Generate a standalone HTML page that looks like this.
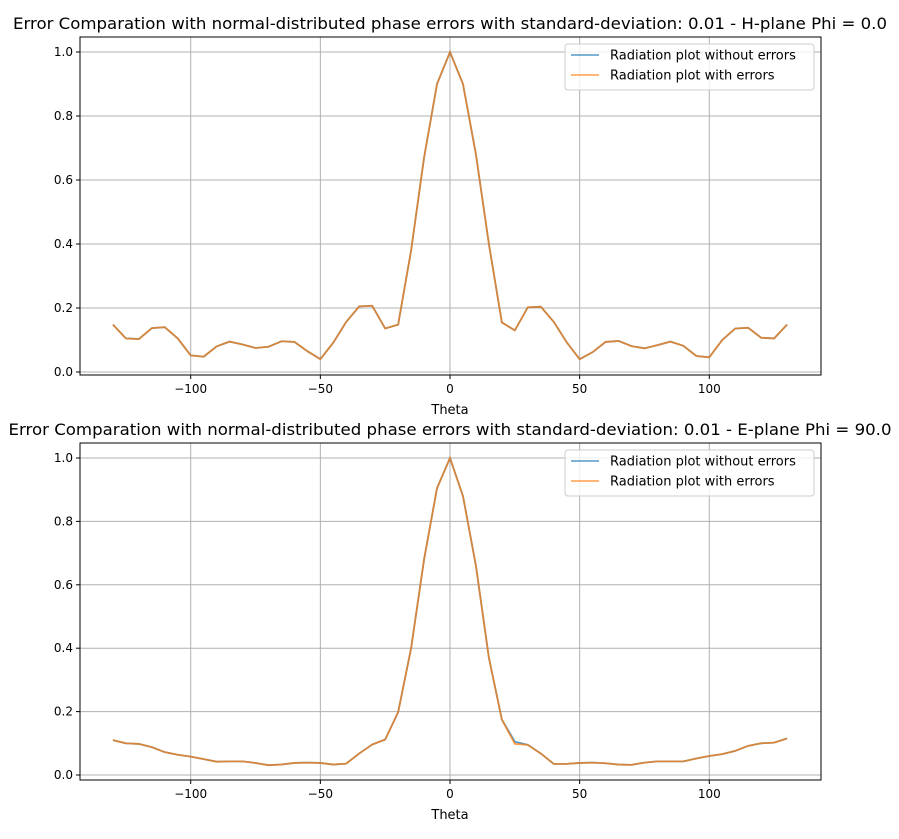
<!DOCTYPE html>
<html><head><meta charset="utf-8"><style>
body{margin:0;background:#fff;font-family:"Liberation Sans","DejaVu Sans",sans-serif}
svg text{font-family:"DejaVu Sans","Liberation Sans",sans-serif}
</style></head><body>
<svg id="c" width="899" height="834" xmlns="http://www.w3.org/2000/svg"></svg>
<script>
const thetas=[];for(let t=-130;t<=130;t+=5)thetas.push(t);
const hNoErr=[0.148,0.105,0.103,0.137,0.14,0.105,0.052,0.048,0.08,0.095,0.086,0.075,0.079,0.096,0.094,0.065,0.04,0.092,0.157,0.205,0.207,0.136,0.148,0.38,0.67,0.9,1.0,0.9,0.68,0.4,0.155,0.13,0.202,0.204,0.157,0.093,0.04,0.062,0.094,0.097,0.081,0.074,0.084,0.095,0.082,0.05,0.046,0.1,0.136,0.138,0.107,0.105,0.148];
const hErr=[0.148,0.105,0.103,0.137,0.14,0.105,0.052,0.048,0.08,0.095,0.086,0.075,0.079,0.096,0.094,0.065,0.04,0.092,0.157,0.205,0.207,0.136,0.148,0.38,0.67,0.9,1.0,0.9,0.68,0.4,0.155,0.13,0.202,0.204,0.157,0.093,0.04,0.062,0.094,0.097,0.081,0.074,0.084,0.095,0.082,0.05,0.046,0.1,0.136,0.138,0.107,0.105,0.148];
const eNoErr=[0.11,0.1,0.098,0.088,0.072,0.064,0.058,0.05,0.042,0.043,0.043,0.038,0.031,0.033,0.038,0.039,0.038,0.033,0.036,0.068,0.096,0.112,0.198,0.4,0.68,0.905,1.0,0.88,0.66,0.37,0.175,0.105,0.095,0.068,0.035,0.035,0.038,0.039,0.037,0.033,0.032,0.039,0.043,0.043,0.043,0.052,0.06,0.066,0.076,0.092,0.1,0.102,0.115];
const eErr=[0.11,0.1,0.098,0.088,0.072,0.064,0.058,0.05,0.042,0.043,0.043,0.038,0.031,0.033,0.038,0.039,0.038,0.033,0.036,0.068,0.096,0.112,0.198,0.4,0.68,0.905,1.0,0.88,0.66,0.37,0.175,0.098,0.095,0.068,0.035,0.035,0.038,0.039,0.037,0.033,0.032,0.039,0.043,0.043,0.043,0.052,0.06,0.066,0.076,0.092,0.1,0.102,0.115];
const xTicks=[-100,-50,0,50,100];
const yTicks=[0,0.2,0.4,0.6,0.8,1.0];
const titles=["Error Comparation with normal-distributed phase errors with standard-deviation: 0.01 - H-plane Phi = 0.0","Error Comparation with normal-distributed phase errors with standard-deviation: 0.01 - E-plane Phi = 90.0"];
const titleWidths=[874,883];
const legendLabels=["Radiation plot without errors","Radiation plot with errors"];
const svg=document.getElementById('c');const NS="http://www.w3.org/2000/svg";
function mk(tag,attrs,parent){const e=document.createElementNS(NS,tag);for(const k in attrs)e.setAttribute(k,attrs[k]);(parent||svg).appendChild(e);return e;}
function panel(top,bottom,y0px,y1px,title,tw,s1,s2,idx){
  const L=80,R=821;
  const g=mk('g',{});
  
  
  const xs=v=>450+(v)*2.593;
  const ys=v=>y0px+(y1px-y0px)*v;
  const t=mk('text',{x:450,y:top-8,'text-anchor':'middle','font-size':16,fill:'#000',textLength:tw,lengthAdjust:'spacingAndGlyphs'},g);t.textContent=title;
  
  xTicks.forEach(v=>{const x=xs(v);mk('line',{x1:x,x2:x,y1:top,y2:bottom,stroke:'#b0b0b0','stroke-width':1},g);
    mk('line',{x1:x,x2:x,y1:bottom,y2:bottom+4,stroke:'#000'},g);
    const tx=mk('text',{x:x,y:bottom+18,'text-anchor':'middle','font-size':12},g);tx.textContent=v<0?'\u2212'+(-v):v;
    });
  yTicks.forEach(v=>{const y=ys(v);mk('line',{x1:L,x2:R,y1:y,y2:y,stroke:'#b0b0b0','stroke-width':1},g);
    mk('line',{x1:L-4,x2:L,y1:y,y2:y,stroke:'#000'},g);
    const ty=mk('text',{x:L-7,y:y+4,'text-anchor':'end','font-size':12},g);ty.textContent=v.toFixed(1);
    });
  const xl=mk('text',{x:450,y:bottom+39,'text-anchor':'middle','font-size':13},g);xl.textContent='Theta';
  
  [[s1,'#1f77b4'],[s2,'#ff7f0e']].forEach(([s,c],i)=>{
    const p=mk('polyline',{points:s.map((v,j)=>xs(thetas[j])+','+ys(v)).join(' '),fill:'none',stroke:c,'stroke-opacity':0.75,'stroke-width':1.8},g);
    });
  mk('rect',{x:L,y:top,width:R-L,height:bottom-top,fill:'none',stroke:'#000','stroke-width':1},g);
  const lg=mk('g',{},g);
  mk('rect',{x:565,y:top+7,width:249,height:46,rx:3,fill:'#fff','fill-opacity':0.8,stroke:'#ccc'},lg);
  legendLabels.forEach((lab,i)=>{const yy=top+18+i*20;
    mk('line',{x1:571,x2:599,y1:yy,y2:yy,stroke:i?'#ff7f0e':'#1f77b4','stroke-opacity':0.75,'stroke-width':1.5},lg);
    const tt=mk('text',{x:610,y:yy+4.5,'font-size':13},lg);tt.textContent=lab;
    });
}
panel(37,375,372,52,titles[0],titleWidths[0],hNoErr,hErr,1);
panel(443,780,775,458,titles[1],titleWidths[1],eNoErr,eErr,2);
</script>
</body></html>
